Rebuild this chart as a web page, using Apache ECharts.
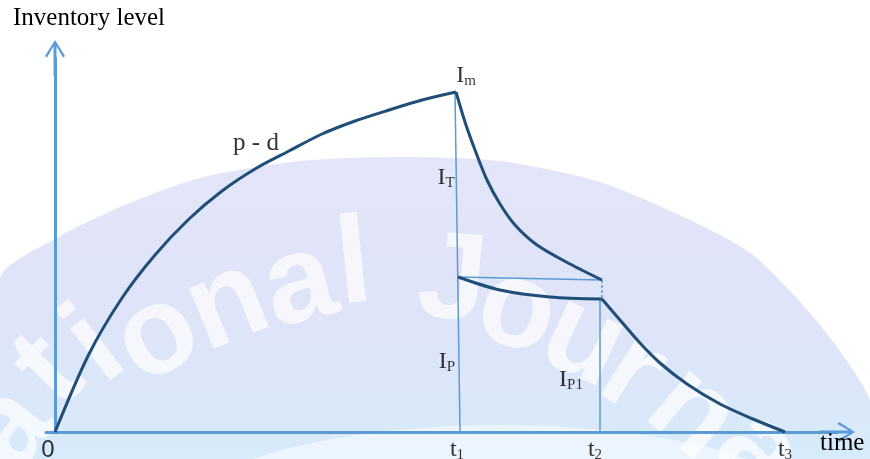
<!DOCTYPE html>
<html>
<head>
<meta charset="utf-8">
<script src="https://cdn.jsdelivr.net/npm/echarts@6/dist/echarts.min.js"></script>
<style>
  html, body { margin: 0; padding: 0; background: #fff; }
  #chart { width: 870px; height: 459px; }
</style>
</head>
<body>
<div id="chart"></div>
<script>
// curve values (time units, inventory units)
const riseX = [0, 0.335, 0.67, 1.0, 1.34, 1.67, 2.0, 2.34, 2.67, 3.0, 3.34, 3.67, 4.01];
const riseY = [0, 0.77, 1.34, 1.77, 2.13, 2.41, 2.63, 2.81, 2.98, 3.11, 3.22, 3.32, 3.40];
const fallX = [4.01, 4.10, 4.20, 4.32, 4.45, 4.60, 4.82, 5.15, 5.47];
const fallY = [3.40, 3.10, 2.82, 2.52, 2.28, 2.07, 1.87, 1.68, 1.52];
const lowX = [4.03, 4.45, 4.95, 5.47];
const lowY = [1.55, 1.42, 1.35, 1.33];
const tailX = [5.47, 5.65, 5.85, 6.05, 6.32, 6.65, 6.98, 7.30];
const tailY = [1.33, 1.12, 0.89, 0.69, 0.48, 0.28, 0.13, 0];
const guideT1 = [[4.00, 3.40], [4.05, 0]];
const guideTop = [[4.02, 1.55], [5.47, 1.52]];
const guideT2 = [[5.45, 1.33], [5.45, 0]];
const dashT2 = [[5.47, 1.52], [5.47, 1.33]];

const tickValues = [-0.07, 4.02, 5.40, 7.30];
const tickText = ['{z|0}', '{t|t}{s|1}', '{t|t}{s|2}', '{t|t}{s|3}'];

const markText = ['{t|I}{s|m}', '{t|I}{s|T}', '{t|I}{s|P}', '{t|I}{s|P1}', '{p|p - d}'];
const markPos = [[4.11, 3.56], [3.91, 2.54], [3.92, 0.70], [5.16, 0.52], [2.01, 2.89]];

const navy = '#1f4e79';
const sky = '#5b9bd5';
const serif = '"Liberation Serif", "Times New Roman", serif';

const rich = {
    t: { fontFamily: serif, fontSize: 24, color: '#000', lineHeight: 24, verticalAlign: 'top' },
    s: { fontFamily: serif, fontSize: 15, color: '#000', lineHeight: 15, verticalAlign: 'top', padding: [10, 0, 0, 0] },
    z: { fontFamily: '"Liberation Sans", Arial, sans-serif', fontSize: 24, color: '#000', lineHeight: 24, verticalAlign: 'top' },
    p: { fontFamily: serif, fontSize: 25, color: '#000', lineHeight: 25 }
};

// open chevron with a stem, so the arrow tip sits beyond the axis end
const arrowPath = 'path://M10,0 L20,16 L18,17.6 L11.5,6.2 L11.5,36 L8.5,36 L8.5,6.2 L2,17.6 L0,16 Z';

function pairs(xs, ys) {
    return xs.map((x, i) => [x, ys[i]]);
}

function curve(data) {
    return {
        type: 'line', data: data, smooth: 0.3, showSymbol: false, silent: true, z: 4,
        lineStyle: { color: navy, width: 3 }
    };
}

function guide(data, dashed) {
    return {
        type: 'line', data: data, showSymbol: false, silent: true, z: 3,
        lineStyle: { color: sky, width: 1.5, type: dashed ? [3, 2] : 'solid' }
    };
}

function textMarks(pos, texts) {
    return {
        type: 'scatter', symbolSize: 0, silent: true, clip: false, z: 6,
        data: pos.map((p, i) => ({ value: p, label: { formatter: texts[i] } })),
        label: { show: true, position: 'inside', rich: rich }
    };
}

// faint journal watermark behind the plot
const wmLetters = [
    ['a', 10, 430, 52], ['t', 50, 372, 45], ['i', 96, 348, 38], ['o', 158, 338, 30],
    ['n', 228, 306, 22], ['a', 300, 286, 14], ['l', 354, 268, 6], ['J', 452, 284, -5],
    ['o', 517, 312, -15], ['u', 583, 342, -25], ['r', 632, 374, -33], ['n', 692, 414, -40],
    ['a', 758, 454, -48]
];
const wmEdge = [[0, 278], [53, 240], [120, 207], [200, 178], [300, 161], [400, 157], [500, 161],
    [600, 182], [690, 220], [753, 255], [820, 325], [870, 400], [870, 459], [0, 459]];

const graphic = [
    {
        type: 'polygon', z: -10, silent: true,
        shape: { points: wmEdge, smooth: 0.25 },
        style: {
            fill: { type: 'linear', x: 0, y: 0, x2: 0, y2: 1, colorStops: [
                { offset: 0, color: '#e4e5f8' }, { offset: 0.5, color: '#dfe4f8' }, { offset: 1, color: '#d6ecfb' }] }
        }
    },
    {
        type: 'ellipse', z: -9, silent: true,
        shape: { cx: 500, cy: 525, rx: 330, ry: 100 },
        style: { fill: 'rgba(255,255,255,0.5)' }
    }
].concat(wmLetters.map(l => ({
    type: 'text', z: -8, silent: true,
    x: l[1], y: l[2], rotation: l[3] * Math.PI / 180,
    style: {
        text: l[0], fill: 'rgba(255,255,255,0.7)',
        font: '900 124px "Liberation Sans", Arial, sans-serif',
        align: 'center', verticalAlign: 'middle', textAlign: 'center', textVerticalAlign: 'middle'
    }
}))).concat([
    {
        type: 'text', x: 13, y: 6, z: 10,
        style: { text: 'Inventory level', fill: '#000', font: '25px ' + serif }
    },
    {
        type: 'text', x: 820, y: 431, z: 10,
        style: { text: 'time', fill: '#000', font: '25px ' + serif }
    }
]);

const chart = echarts.init(document.getElementById('chart'));
chart.setOption({
    animation: false,
    backgroundColor: '#fff',
    graphic: graphic,
    grid: { left: 46, right: 33, top: 58, bottom: 27 },
    xAxis: {
        type: 'value', min: -0.09, max: 7.82,
        axisLine: {
            onZero: true, symbol: ['none', arrowPath], symbolSize: [20, 36],
            lineStyle: { color: sky, width: 3 }
        },
        axisTick: { show: false },
        splitLine: { show: false },
        axisLabel: { show: false }
    },
    yAxis: {
        type: 'value', min: 0, max: 3.74,
        axisLine: {
            onZero: true, symbol: ['none', arrowPath], symbolSize: [20, 36],
            lineStyle: { color: sky, width: 3 }
        },
        axisTick: { show: false },
        splitLine: { show: false },
        axisLabel: { show: false }
    },
    series: [
        guide(guideT1), guide(guideTop), guide(guideT2), guide(dashT2, true),
        curve(pairs(riseX, riseY)),
        curve(pairs(fallX, fallY)),
        curve(pairs(lowX, lowY)),
        curve(pairs(tailX, tailY)),
        textMarks(markPos, markText),
        // tick labels under the time axis
        textMarks(tickValues.map(v => [v, -0.18]), tickText)
    ]
});
</script>
</body>
</html>
